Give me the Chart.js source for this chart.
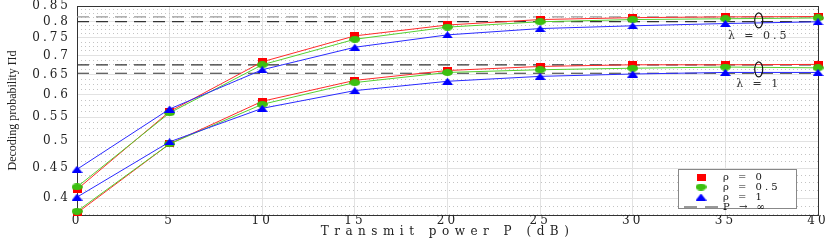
<!DOCTYPE html>
<html>
<head>
<meta charset="utf-8">
<script src="https://cdn.jsdelivr.net/npm/chart.js@4.4.0/dist/chart.umd.min.js"></script>
<style>
  body { margin: 0; background: #fff; }
  canvas { display: block; }
</style>
</head>
<body>
<canvas id="decodingChart" width="830" height="240"></canvas>
<script>
// Transmit power P (dB)
const powerDb = [0, 5, 10, 15, 20, 25, 30, 35, 40];

// lambda = 0.5 group
const rho0Lam05 = [0.414, 0.562, 0.683, 0.756, 0.789, 0.806, 0.812, 0.8145, 0.8155];
const rho05Lam05 = [0.418, 0.559, 0.675, 0.746, 0.7825, 0.799, 0.806, 0.8085, 0.811];
const rho1Lam05 = [0.448, 0.5675, 0.662, 0.723, 0.759, 0.778, 0.7865, 0.7935, 0.799];

// lambda = 1 group
const rho0Lam1 = [0.3775, 0.495, 0.585, 0.635, 0.66, 0.6706, 0.675, 0.675, 0.676];
const rho05Lam1 = [0.38, 0.495, 0.578, 0.6295, 0.655, 0.662, 0.666, 0.669, 0.667];
const rho1Lam1 = [0.4017, 0.499, 0.569, 0.61, 0.6327, 0.645, 0.651, 0.655, 0.655];

// P -> infinity limits
const limitValues = [0.8145, 0.7995, 0.675, 0.653];

const yTickValues = [0.4, 0.45, 0.5, 0.55, 0.6, 0.65, 0.7, 0.75, 0.8, 0.85];
const legendNames = ['\u03c1 = 0', '\u03c1 = 0.5', '\u03c1 = 1', 'P \u2192 \u221e'];

// ellipse marks + lambda labels
const lambdaLabels = ['\u03bb = 0.5', '\u03bb = 1'];
const lambdaMarkX = [36.8, 36.8];
const lambdaMarkY = [0.8034, 0.663];
const lambdaTextY = [0.7565, 0.6254];

const Y_MIN = 0.3745, Y_MAX = 0.85;

function marker(w, h, color, shape) {
    const c = document.createElement('canvas');
    c.width = w; c.height = h;
    const g = c.getContext('2d');
    g.fillStyle = color;
    g.strokeStyle = color;
    g.beginPath();
    if (shape === 'rect') {
        g.rect(0, 0, w, h);
        g.fill();
    } else if (shape === 'ellipse') {
        g.ellipse(w / 2, h / 2, w / 2, h / 2, 0, 0, 2 * Math.PI);
        g.fill();
    } else if (shape === 'triangle') {
        g.moveTo(w / 2, 0); g.lineTo(w, h); g.lineTo(0, h); g.closePath();
        g.fill();
    } else {
        g.lineWidth = 1.2;
        g.setLineDash([13, 8]);
        g.moveTo(0, h / 2); g.lineTo(w, h / 2);
        g.stroke();
    }
    return c;
}

const redMark = marker(9, 7, '#ff0000', 'rect');
const greenMark = marker(11, 7, '#3cc010', 'ellipse');
const blueMark = marker(11, 7, '#0000ff', 'triangle');
const dashMark = marker(34, 3, '#333', 'dash');

function series(values, label, color, mark, order) {
    return {
        label: label,
        data: powerDb.map((x, i) => ({ x: x, y: values[i] })),
        borderColor: color,
        backgroundColor: color,
        borderWidth: 1,
        pointStyle: mark,
        pointRadius: 5,
        pointHoverRadius: 5,
        tension: 0,
        clip: false,
        order: order
    };
}

function limit(value, color) {
    return {
        label: legendNames[3],
        data: [{ x: powerDb[0], y: value }, { x: powerDb[powerDb.length - 1], y: value }],
        borderColor: color,
        borderWidth: 1.2,
        borderDash: [12, 7],
        pointStyle: dashMark,
        pointRadius: 0,
        pointHoverRadius: 0,
        order: 4
    };
}

// x title gets wide spacing, y title none
const drawTitleBase = Chart.Scale.prototype.drawTitle;
Chart.Scale.prototype.drawTitle = function () {
    const ctx = this.ctx, keep = ctx.letterSpacing;
    ctx.letterSpacing = this.id === 'y' ? '0px' : '5.5px';
    drawTitleBase.call(this);
    ctx.letterSpacing = keep;
};

function noOverflow(scale) {
    scale.paddingTop = 0;
    scale.paddingBottom = 0;
    scale.paddingLeft = 0;
    scale.paddingRight = 0;
}

const extras = {
    id: 'extras',
    afterLayout(chart) {
        const lg = chart.legend, area = chart.chartArea;
        lg.left = area.right - 134;
        lg.right = lg.left + 120;
        lg.top = area.bottom - 45;
        lg.bottom = lg.top + 44;
    },
    beforeDraw(chart) {
        chart.ctx.letterSpacing = '3px';
    },
    beforeDatasetsDraw(chart) {
        const ctx = chart.ctx, lg = chart.legend;
        ctx.save();
        ctx.fillStyle = '#fff';
        ctx.strokeStyle = '#888';
        ctx.lineWidth = 1;
        ctx.fillRect(lg.left - 6, lg.top - 1, 119, 40);
        ctx.strokeRect(lg.left - 5.5, lg.top - 0.5, 118, 39);
        ctx.restore();
        lg.draw();
    },
    afterDatasetsDraw(chart) {
        const ctx = chart.ctx, xs = chart.scales.x, ys = chart.scales.y;
        ctx.save();
        ctx.strokeStyle = '#111';
        ctx.lineWidth = 1.2;
        lambdaMarkY.forEach((v, i) => {
            ctx.beginPath();
            ctx.ellipse(xs.getPixelForValue(lambdaMarkX[i]), ys.getPixelForValue(v), 4, 7.5, 0, 0, 2 * Math.PI);
            ctx.stroke();
        });
        ctx.font = '11px "DejaVu Serif"';
        ctx.letterSpacing = '3px';
        ctx.fillStyle = '#333';
        ctx.textAlign = 'center';
        ctx.textBaseline = 'middle';
        lambdaLabels.forEach((t, i) => {
            ctx.fillText(t, xs.getPixelForValue(lambdaMarkX[i]), ys.getPixelForValue(lambdaTextY[i]));
        });
        ctx.restore();
    }
};

const tickFont = { family: 'DejaVu Serif', size: 12, lineHeight: 1 };

const ctx = document.getElementById('decodingChart').getContext('2d');
const decodingChart = new Chart(ctx, {
    type: 'line',
    data: {
        datasets: [
            series(rho0Lam05, legendNames[0], '#ff2a2a', redMark, 3),
            series(rho0Lam1, legendNames[0], '#ff2a2a', redMark, 3),
            series(rho05Lam05, legendNames[1], '#55d030', greenMark, 2),
            series(rho05Lam1, legendNames[1], '#55d030', greenMark, 2),
            series(rho1Lam05, legendNames[2], '#2a2aff', blueMark, 1),
            series(rho1Lam1, legendNames[2], '#2a2aff', blueMark, 1),
            limit(limitValues[0], '#999'),
            limit(limitValues[1], '#333'),
            limit(limitValues[2], '#333'),
            limit(limitValues[3], '#333')
        ]
    },
    options: {
        responsive: false,
        animation: false,
        devicePixelRatio: 1,
        layout: { padding: { top: 4, left: 0, right: 0, bottom: 0 } },
        plugins: {
            tooltip: { enabled: false },
            legend: {
                position: 'chartArea',
                labels: {
                    usePointStyle: true,
                    pointStyleWidth: 34,
                    padding: 0,
                    color: '#111',
                    font: { family: 'DejaVu Serif', size: 10, lineHeight: 1 },
                    filter: item => [0, 2, 4, 6].includes(item.datasetIndex),
                    sort: (a, b) => a.datasetIndex - b.datasetIndex
                }
            }
        },
        scales: {
            x: {
                type: 'linear',
                min: 0,
                max: 40,
                ticks: { stepSize: 5, font: tickFont, color: '#222', padding: 0, maxRotation: 0 },
                grid: { color: '#e2e2e2', drawTicks: false },
                border: { color: '#333' },
                title: {
                    display: true,
                    text: 'Transmit power P (dB)',
                    font: { family: 'DejaVu Serif', size: 12, lineHeight: 1 },
                    color: '#222',
                    padding: { top: 0, bottom: 2 }
                },
                afterFit: scale => { scale.height = 25; noOverflow(scale); }
            },
            x2: {
                type: 'linear',
                position: 'top',
                min: 0,
                max: 40,
                ticks: { display: false },
                grid: { drawOnChartArea: false, drawTicks: false },
                border: { color: '#333' },
                afterFit: scale => { scale.height = 0; noOverflow(scale); }
            },
            y: {
                type: 'logarithmic',
                min: Y_MIN,
                max: Y_MAX,
                afterBuildTicks: scale => { scale.ticks = yTickValues.map(v => ({ value: v })); },
                ticks: { font: tickFont, color: '#222', padding: 6, callback: v => String(v) },
                grid: { color: '#e2e2e2', drawTicks: false },
                border: { color: '#333' },
                title: {
                    display: true,
                    text: 'Decoding probability \u03a0d',
                    font: { family: 'Liberation Serif', size: 12, lineHeight: 1 },
                    color: '#222',
                    padding: { top: 7, bottom: 0 }
                },
                afterFit: scale => { scale.width = 77; noOverflow(scale); }
            },
            y2: {
                type: 'logarithmic',
                position: 'right',
                min: Y_MIN,
                max: Y_MAX,
                afterBuildTicks: scale => {
                    const minor = [];
                    yTickValues.forEach(t => [1, 2, 3].forEach(k => {
                        const v = t - k * 0.0125;
                        if (v >= Y_MIN) minor.push({ value: v });
                    }));
                    scale.ticks = minor;
                },
                ticks: { display: false },
                grid: { color: '#c4c4c4', drawTicks: false },
                border: { color: '#333', dash: [1, 3] },
                afterFit: scale => { scale.width = 12; noOverflow(scale); }
            }
        }
    },
    plugins: [extras]
});
</script>
</body>
</html>
